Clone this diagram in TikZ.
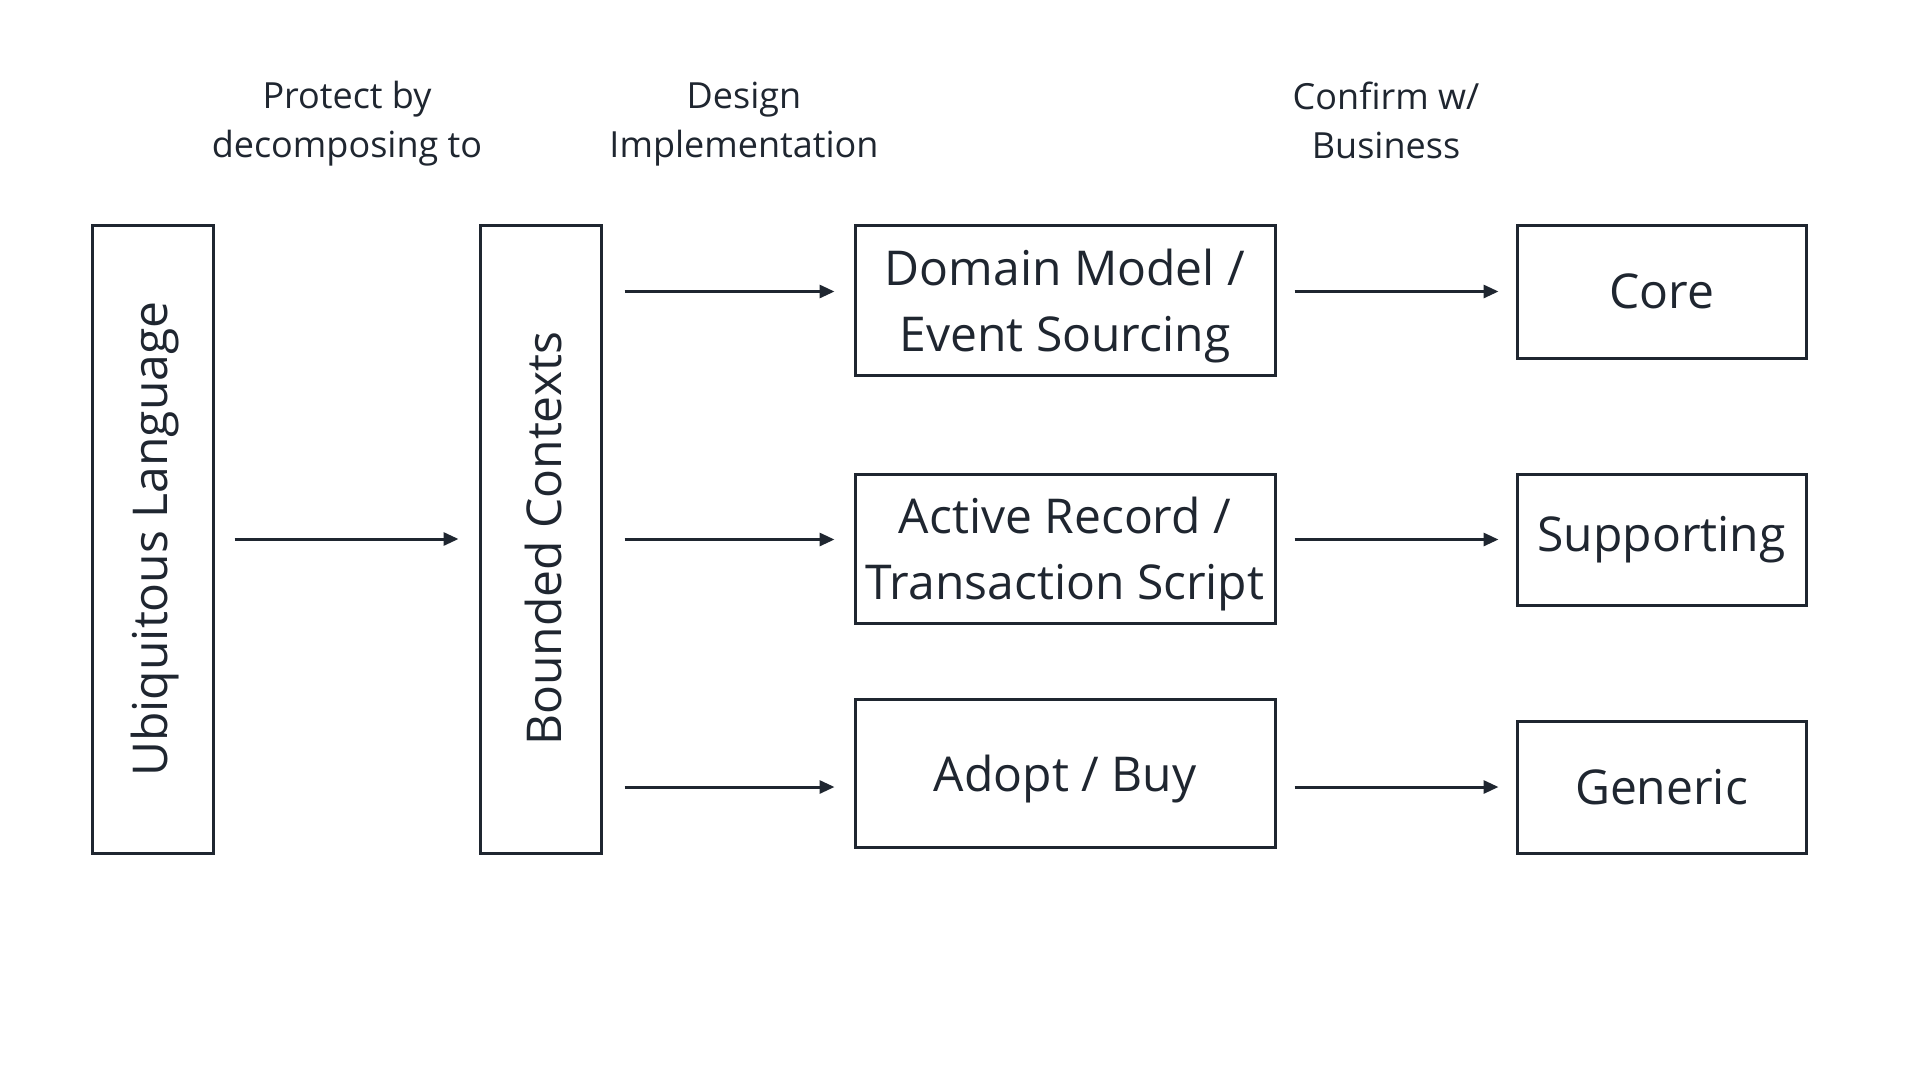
\documentclass[tikz,border=0pt]{standalone}
\usepackage{fontspec}
\setmainfont{Open Sans}
\usetikzlibrary{arrows.meta,calc}
\definecolor{ink}{HTML}{1F2630}
\begin{document}
\begin{tikzpicture}[x=1pt,y=-1pt,
  box/.style={draw=ink,line width=3pt,text=ink,inner sep=0pt,align=center,font=\fontsize{48}{66}\selectfont},
  vtext/.style={text=ink,rotate=90,font=\fontsize{48}{66}\selectfont},
  lbl/.style={text=ink,align=center,font=\fontsize{36}{49}\selectfont},
  arr/.style={draw=ink,line width=3pt,-{Triangle[length=15pt,width=13pt]}}]
\useasboundingbox[fill=white] (0,0) rectangle (1920,1080);
% tall boxes
\node[box,minimum width=121pt,minimum height=628pt] (ul) at (152.5,539) {};
\node[vtext] (ult) at ([xshift=3pt]ul.center) {Ubiquitous Language};
\node[box,minimum width=121pt,minimum height=628pt] (bc) at (540.5,539) {};
\node[vtext] (bct) at ([xshift=3pt]bc.center) {Bounded Contexts};
% middle column
\node[box,minimum width=420pt,minimum height=150pt,text depth=-7pt] (dm) at (1065,300) {Domain Model /\\Event Sourcing};
\node[box,minimum width=420pt,minimum height=149pt,text depth=-7pt] (ar) at (1065,548.5) {Active Record /\\Transaction Script};
\node[box,minimum width=420pt,minimum height=148pt,text depth=-10pt] (ab) at (1065,773) {Adopt / Buy};
% right column
\node[box,minimum width=289pt,minimum height=133pt] (core) at (1661.5,291.5) {Core};
\node[box,minimum width=289pt,minimum height=131pt] (sup) at (1661.5,539.5) {Supporting};
\node[box,minimum width=289pt,minimum height=132pt] (gen) at (1661.5,787) {Generic};
% labels
\node[lbl] (l1) at (347,124) {Protect by\\decomposing to};
\node[lbl] (l2) at (744,124) {Design\\Implementation};
\node[lbl] (l3) at (1386,120) {Confirm w/\\Business};
% arrows
\draw[arr] ([xshift=20pt]ul.east) -- ([xshift=-20pt]bc.west);
\draw[arr] ([xshift=22pt]bc.east |- core.west) -- ([xshift=-19pt]dm.west |- core.west);
\draw[arr] ([xshift=22pt]bc.east |- sup.west) -- ([xshift=-19pt]ar.west |- sup.west);
\draw[arr] ([xshift=22pt]bc.east |- gen.west) -- ([xshift=-19pt]ab.west |- gen.west);
\draw[arr] ([xshift=18pt]dm.east |- core.west) -- ([xshift=-17pt]core.west);
\draw[arr] ([xshift=18pt]ar.east |- sup.west) -- ([xshift=-17pt]sup.west);
\draw[arr] ([xshift=18pt]ab.east |- gen.west) -- ([xshift=-17pt]gen.west);
\end{tikzpicture}
\end{document}
